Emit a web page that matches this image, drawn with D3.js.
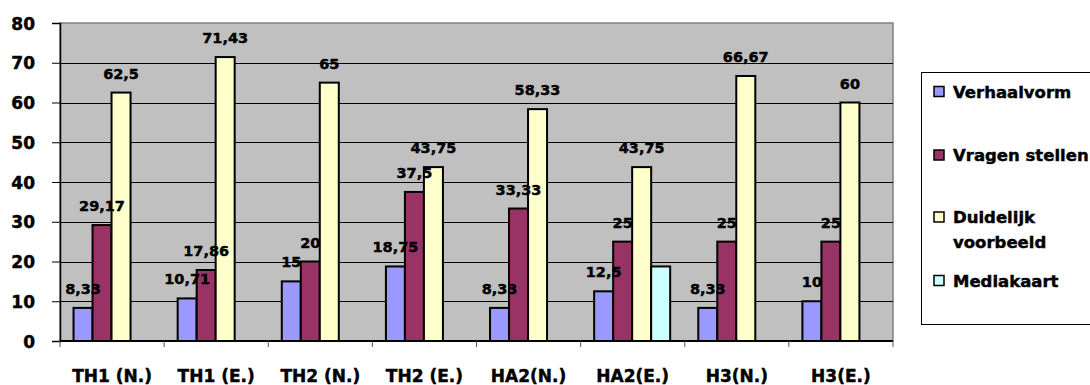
<!DOCTYPE html>
<html>
<head>
<meta charset="utf-8">
<script src="https://cdn.jsdelivr.net/npm/d3@7"></script>
<style>
  html, body { margin: 0; padding: 0; background: #ffffff; }
  svg { display: block; }
  text { font-family: "DejaVu Sans", Verdana, sans-serif; font-weight: bold; fill: #000;
         stroke: #000; stroke-width: 0.45px; }
</style>
</head>
<body>
<svg id="chart" width="1090" height="385"></svg>
<script>
// Categories (lessons) and the share per teaching approach
const categories = ["TH1 (N.)", "TH1 (E.)", "TH2 (N.)", "TH2 (E.)", "HA2(N.)", "HA2(E.)", "H3(N.)", "H3(E.)"];
const seriesNames = ["Verhaalvorm", "Vragen stellen", "Duidelijk voorbeeld", "Mediakaart"];
const verhaalvorm = [8.33, 10.71, 15, 18.75, 8.33, 12.5, 8.33, 10];
const vragenStellen = [29.17, 17.86, 20, 37.5, 33.33, 25, 25, 25];
const duidelijkVoorbeeld = [62.5, 71.43, 65, 43.75, 58.33, 43.75, 66.67, 60];
const mediakaart = [null, null, null, null, null, 18.75, null, null];
const yTicks = [0, 10, 20, 30, 40, 50, 60, 70, 80];

const seriesValues = [verhaalvorm, vragenStellen, duidelijkVoorbeeld, mediakaart];
const colors = ["#9999FF", "#993366", "#FFFFCC", "#CCFFFF"];
const labelled = [true, true, true, false];

const svg = d3.select("#chart");
const plot = { left: 60, right: 893, top: 23, bottom: 341 };

const y = d3.scaleLinear().domain([0, 80]).range([plot.bottom, plot.top]);
const x0 = d3.scaleBand().domain(categories).range([plot.left, plot.right]).padding(0);
const bw = x0.bandwidth();
const x1 = d3.scaleBand().domain(d3.range(seriesNames.length))
  .range([bw * 0.13, bw * 0.86]).padding(0);

// Plot background
svg.append("rect")
  .attr("x", plot.left).attr("y", plot.top)
  .attr("width", plot.right - plot.left).attr("height", plot.bottom - plot.top)
  .attr("fill", "#C0C0C0").attr("stroke", "#808080").attr("stroke-width", 1.5);

// Horizontal gridlines
svg.append("g").selectAll("line")
  .data(yTicks.filter(t => t > 0 && t < 80))
  .join("line")
  .attr("x1", plot.left).attr("x2", plot.right)
  .attr("y1", d => Math.round(y(d)) + 0.5).attr("y2", d => Math.round(y(d)) + 0.5)
  .attr("stroke", "#000").attr("stroke-width", 1);

// Y axis
const yAxis = svg.append("g")
  .attr("transform", `translate(${plot.left},0)`)
  .call(d3.axisLeft(y).tickValues(yTicks).tickSize(8).tickPadding(17).tickFormat(d3.format("d")));
yAxis.select(".domain").attr("stroke", "#000").attr("stroke-width", 1.5);
yAxis.selectAll(".tick line").attr("stroke", "#000");
yAxis.selectAll("text")
  .attr("font-size", "17px").attr("font-family", "DejaVu Sans").attr("font-weight", "bold")
  .attr("fill", "#000").attr("dy", "0.36em");

// X axis with tick marks at category boundaries
const xAxis = svg.append("g").attr("transform", `translate(0,${plot.bottom})`);
xAxis.append("line")
  .attr("x1", plot.left).attr("x2", plot.right)
  .attr("y1", 0).attr("y2", 0)
  .attr("stroke", "#000").attr("stroke-width", 2);
xAxis.selectAll("line.tick")
  .data(categories.concat(["end"]))
  .join("line").attr("class", "tick")
  .attr("x1", (d, i) => i < categories.length ? x0(d) : plot.right)
  .attr("x2", (d, i) => i < categories.length ? x0(d) : plot.right)
  .attr("y1", 0).attr("y2", 6)
  .attr("stroke", "#555").attr("stroke-width", 1);
xAxis.selectAll("text.cat")
  .data(categories)
  .join("text").attr("class", "cat")
  .attr("x", d => x0(d) + bw / 2)
  .attr("y", 40.5)
  .attr("text-anchor", "middle")
  .attr("font-size", "17px")
  .text(d => d);

// Bars
const groups = svg.append("g").selectAll("g")
  .data(categories)
  .join("g")
  .attr("transform", d => `translate(${x0(d)},0)`);

const barData = (c, ci) => seriesValues.map((vals, si) => ({ si, v: vals[ci] })).filter(d => d.v != null);

groups.selectAll("rect")
  .data((c, ci) => barData(c, ci))
  .join("rect")
  .attr("x", d => x1(d.si))
  .attr("y", d => y(d.v))
  .attr("width", x1.bandwidth())
  .attr("height", d => y(0) - y(d.v))
  .attr("fill", d => colors[d.si])
  .attr("stroke", "#000").attr("stroke-width", 2);

// Value labels, drawn above all bars
const labels = svg.append("g").selectAll("g")
  .data(categories)
  .join("g")
  .attr("transform", d => `translate(${x0(d)},0)`);

const fmt = v => String(v).replace(".", ",");
labels.selectAll("text")
  .data((c, ci) => barData(c, ci).filter(d => labelled[d.si]))
  .join("text")
  .attr("x", d => x1(d.si) + x1.bandwidth() / 2)
  .attr("y", d => y(d.v) - 14)
  .attr("text-anchor", "middle")
  .attr("font-size", "14.5px")
  .text(d => fmt(d.v));

// Legend
const legend = svg.append("g");
legend.append("rect")
  .attr("x", 921.5).attr("y", 72.5).attr("width", 200).attr("height", 252)
  .attr("fill", "#fff").attr("stroke", "#000").attr("stroke-width", 1);

const legendRows = [
  { lines: ["Verhaalvorm"], cy: 91.5 },
  { lines: ["Vragen stellen"], cy: 155 },
  { lines: ["Duidelijk", "voorbeeld"], cy: 217 },
  { lines: ["Mediakaart"], cy: 280.5 }
];
const items = legend.selectAll("g.item")
  .data(legendRows)
  .join("g").attr("class", "item");
items.append("rect")
  .attr("x", 934).attr("y", d => d.cy - 5)
  .attr("width", 10).attr("height", 10)
  .attr("fill", (d, i) => colors[i])
  .attr("stroke", "#000").attr("stroke-width", 1.5);
items.append("text")
  .attr("x", 953)
  .attr("y", d => d.cy + 6)
  .attr("font-size", "16.5px")
  .selectAll("tspan")
  .data(d => d.lines)
  .join("tspan")
  .attr("x", 953)
  .attr("dy", (d, i) => i === 0 ? 0 : 25)
  .text(d => d);
</script>
</body>
</html>
